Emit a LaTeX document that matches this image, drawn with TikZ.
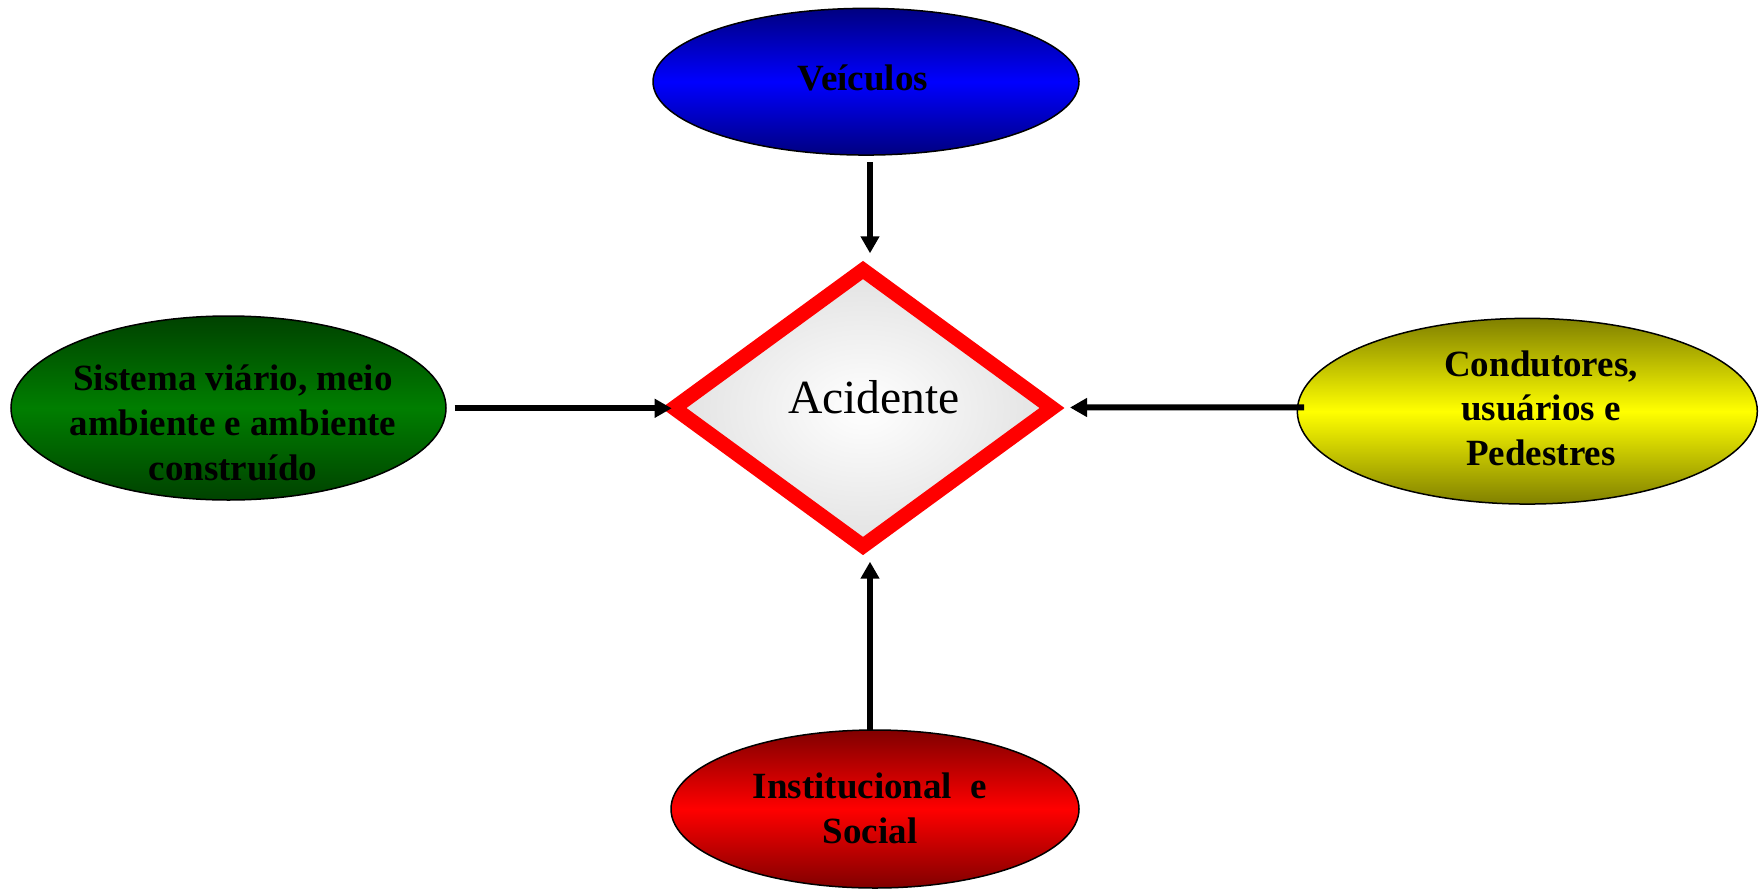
\documentclass[tikz,border=0pt]{standalone}
\usepackage{fontspec}
\setmainfont{Liberation Serif}
\usetikzlibrary{shapes.geometric,arrows.meta,calc}
\definecolor{vnavy}{RGB}{0,0,128}
\definecolor{vblue}{RGB}{0,0,255}
\definecolor{gdark}{RGB}{0,66,0}
\definecolor{gmid}{RGB}{0,126,0}
\definecolor{ydark}{RGB}{128,128,0}
\definecolor{ymid}{RGB}{255,255,0}
\definecolor{rdark}{RGB}{128,0,0}
\definecolor{rmid}{RGB}{255,0,0}
\definecolor{diagray}{RGB}{226,226,226}
\begin{document}
\begin{tikzpicture}[x=1pt,y=-1pt,
  oval/.style={ellipse, draw=black, line width=1.5pt, inner sep=0pt, outer sep=0pt},
  lbl/.style={align=center, font=\fontsize{37}{44.8}\selectfont\bfseries, inner sep=0pt, anchor=base},
  arr/.style={line width=6pt, -{Triangle[length=17pt,width=18pt]}},
]
\fill[white] (0,0) rectangle (1763,889);
\path[use as bounding box] (0,0) rectangle (1763,889);

% central diamond
\node[diamond, draw=red, line width=14.7pt, inner sep=0pt, outer sep=0pt,
      minimum width=378pt, minimum height=276pt,
      inner color=white, outer color=diagray] (acc) at (863,408) {};
\node[font=\fontsize{47.6}{57}\selectfont, inner sep=0pt, anchor=base] (acctext) at (874,413.3) {Acidente};

% ellipses
\node[oval, minimum width=426pt, minimum height=146.7pt,
      top color=vnavy, bottom color=vnavy, middle color=vblue] (veh) at (866,81.7) {};
\node[lbl] (vehtext) at (863,90.7) {Veículos};

\node[oval, minimum width=435pt, minimum height=184pt,
      top color=gdark, bottom color=gdark, middle color=gmid] (sys) at (228.5,408) {};
\node[lbl] (systext) at (233,480.3) {Sistema viário, meio\\ambiente e ambiente\\construído};

\node[oval, minimum width=460pt, minimum height=185.7pt,
      top color=ydark, bottom color=ydark, middle color=ymid] (cond) at (1527.3,411.2) {};
\node[lbl] (condtext) at (1541,465.6) {Condutores,\\usuários e\\Pedestres};

\node[oval, minimum width=408pt, minimum height=158pt,
      top color=rdark, bottom color=rdark, middle color=rmid] (inst) at (875,809) {};
\node[lbl] (insttext) at (870,843.1) {Institucional\ \ e\\Social};

% connectors
\draw[arr] ($(veh.south)+(4,7.3)$) -- ($(acc.center)+(7,-154.7)$);
\draw[arr] ($(sys.east)+(8.5,0.3)$) -- ($(acc.center)+(-191.3,0.3)$);
\draw[arr] ($(cond.west)+(6.7,-3.9)$) -- ($(acc.center)+(207,-0.5)$);
\draw[arr] ($(inst.north)+(-5,0)$) -- ($(acc.center)+(7,153.7)$);
\end{tikzpicture}
\end{document}
